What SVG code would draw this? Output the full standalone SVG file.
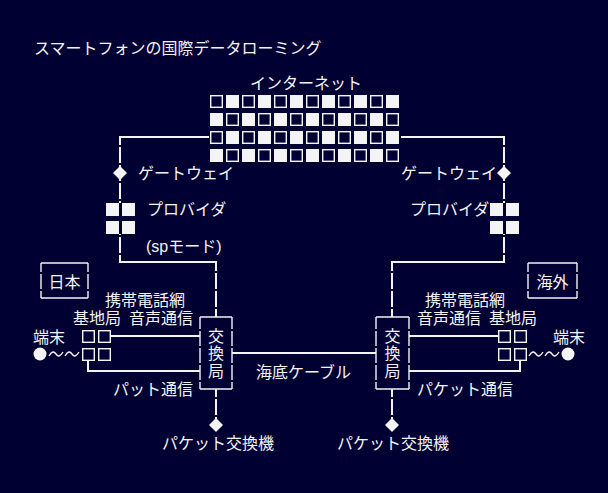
<svg xmlns="http://www.w3.org/2000/svg" width="608" height="493" viewBox="0 0 608 493">
<style>
text{font-family:"Liberation Sans","Noto Sans CJK JP",sans-serif;font-size:16px;fill:#f4f4f4}
.c{text-anchor:middle}
text.v{font-family:"Noto Sans CJK JP",sans-serif;writing-mode:vertical-rl;letter-spacing:1.5px}
.ln{fill:none;stroke:#f4f4f4;stroke-width:2}
.th{fill:none;stroke:#f4f4f4;stroke-width:1.4}
.f{fill:#f4f4f4}
.h{fill:none;stroke:#f4f4f4;stroke-width:1.4}
.d{fill:#f4f4f4}
</style>
<defs>
<pattern id="stripe" patternUnits="userSpaceOnUse" x="0" y="0" width="608" height="18">
<rect x="0" y="0" width="608" height="18" fill="#fff"/>
<rect x="0" y="1" width="608" height="2" fill="#000"/>
</pattern>
<mask id="gaps" maskUnits="userSpaceOnUse" x="0" y="0" width="608" height="493">
<rect x="0" y="0" width="608" height="493" fill="url(#stripe)"/>
</mask>
<rect id="sf" width="13" height="13" class="f"/>
<rect id="sh" x="0.7" y="0.7" width="11.6" height="11.6" class="h"/>
</defs>
<rect x="0" y="0" width="608" height="493" fill="#000033"/>

<text x="34" y="54">スマートフォンの国際データローミング</text>

<g id="connectors">
<g mask="url(#gaps)">
<path class="ln" d="M209,137 H120 V203"/>
<path class="ln" d="M120,234 V262 H216 V317"/>
<path class="ln" d="M401,137 H504 V203"/>
<path class="ln" d="M504,234 V262 H392 V317"/>
<path class="ln" d="M216,389 V420"/>
<path class="ln" d="M392,389 V420"/>
</g>
<path class="ln" d="M232,353 H376"/>
<path class="ln" d="M111,336 H200"/>
<path class="ln" d="M88,361 V371 H200"/>
<path class="ln" d="M409,336 H498"/>
<path class="ln" d="M520,361 V371 H409"/>
<path class="th" d="M49,356 C52,351 54,351 56,354 S60,357 63,352 M65,356 C68,351 70,351 72,354 S76,357 79,352"/>
<path class="th" d="M529,356 C532,351 534,351 536,354 S540,357 543,352 M545,356 C548,351 550,351 552,354 S556,357 559,352"/>
</g>

<g id="internet">
<text x="250" y="89">インターネット</text>
<g id="grid">
<use href="#sh" x="210" y="95"/><use href="#sf" x="226" y="95"/><use href="#sh" x="242" y="95"/><use href="#sf" x="258" y="95"/><use href="#sh" x="274" y="95"/><use href="#sf" x="290" y="95"/><use href="#sh" x="306" y="95"/><use href="#sf" x="322" y="95"/><use href="#sh" x="338" y="95"/><use href="#sf" x="354" y="95"/><use href="#sh" x="370" y="95"/><use href="#sf" x="386" y="95"/>
<use href="#sf" x="210" y="113"/><use href="#sh" x="226" y="113"/><use href="#sf" x="242" y="113"/><use href="#sh" x="258" y="113"/><use href="#sf" x="274" y="113"/><use href="#sh" x="290" y="113"/><use href="#sf" x="306" y="113"/><use href="#sh" x="322" y="113"/><use href="#sf" x="338" y="113"/><use href="#sh" x="354" y="113"/><use href="#sf" x="370" y="113"/><use href="#sh" x="386" y="113"/>
<use href="#sh" x="210" y="131"/><use href="#sf" x="226" y="131"/><use href="#sh" x="242" y="131"/><use href="#sf" x="258" y="131"/><use href="#sh" x="274" y="131"/><use href="#sf" x="290" y="131"/><use href="#sh" x="306" y="131"/><use href="#sf" x="322" y="131"/><use href="#sh" x="338" y="131"/><use href="#sf" x="354" y="131"/><use href="#sh" x="370" y="131"/><use href="#sf" x="386" y="131"/>
<use href="#sf" x="210" y="149"/><use href="#sh" x="226" y="149"/><use href="#sf" x="242" y="149"/><use href="#sh" x="258" y="149"/><use href="#sf" x="274" y="149"/><use href="#sh" x="290" y="149"/><use href="#sf" x="306" y="149"/><use href="#sh" x="322" y="149"/><use href="#sf" x="338" y="149"/><use href="#sh" x="354" y="149"/><use href="#sf" x="370" y="149"/><use href="#sh" x="386" y="149"/>
</g>
</g>

<g id="gateway-left">
<polygon class="d" points="120,166 127,173 120,180 113,173"/>
<text x="138" y="179">ゲートウェイ</text>
</g>
<g id="gateway-right">
<polygon class="d" points="504,166 511,173 504,180 497,173"/>
<text x="401" y="179">ゲートウェイ</text>
</g>

<g id="provider-left">
<use href="#sf" x="106" y="203"/><use href="#sf" x="122" y="203"/>
<use href="#sf" x="106" y="221"/><use href="#sf" x="122" y="221"/>
<text x="147" y="215">プロバイダ</text>
<text x="146" y="252">(spモード)</text>
</g>
<g id="provider-right">
<use href="#sf" x="490" y="203"/><use href="#sf" x="506" y="203"/>
<use href="#sf" x="490" y="221"/><use href="#sf" x="506" y="221"/>
<text x="410" y="215">プロバイダ</text>
</g>

<g id="japan">
<path class="th" d="M41,263 H88 M41,298 H88 M41,263 V272 M41,274 V289 M41,291 V298 M88,263 V272 M88,274 V289 M88,291 V298"/>
<text class="c" x="64.5" y="288">日本</text>
</g>
<g id="overseas">
<path class="th" d="M528,263 H577 M528,298 H577 M528,263 V272 M528,274 V289 M528,291 V298 M577,263 V272 M577,274 V289 M577,291 V298"/>
<text class="c" x="552.5" y="288">海外</text>
</g>

<g id="mobile-left">
<text x="105" y="306">携帯電話網</text>
<text x="73" y="324">基地局</text>
<text x="129" y="324">音声通信</text>
<use href="#sh" x="82" y="330"/><use href="#sh" x="98" y="330"/>
<use href="#sh" x="82" y="348"/><use href="#sh" x="98" y="348"/>
<text x="113" y="395">パット通信</text>
</g>
<g id="terminal-left">
<text x="33" y="343">端末</text>
<circle class="d" cx="40" cy="354" r="6.5"/>
</g>

<g id="mobile-right">
<text x="425" y="306">携帯電話網</text>
<text x="417" y="324">音声通信</text>
<text x="489" y="324">基地局</text>
<use href="#sh" x="498" y="330"/><use href="#sh" x="514" y="330"/>
<use href="#sh" x="498" y="348"/><use href="#sh" x="514" y="348"/>
<text x="417" y="395">パケット通信</text>
</g>
<g id="terminal-right">
<text x="553" y="343">端末</text>
<circle class="d" cx="568" cy="354" r="6.5"/>
</g>

<g id="exchange-left">
<path class="th" d="M200,317 H232 M200,389 H232 M200,317 V329 M200,331 V346 M200,348 V363 M200,365 V380 M200,382 V389 M232,317 V329 M232,331 V346 M232,348 V363 M232,365 V380 M232,382 V389"/>
<text class="v" x="216" y="327.5">交換局</text>
</g>
<g id="exchange-right">
<path class="th" d="M376,317 H409 M376,389 H409 M376,317 V329 M376,331 V346 M376,348 V363 M376,365 V380 M376,382 V389 M409,317 V329 M409,331 V346 M409,348 V363 M409,365 V380 M409,382 V389"/>
<text class="v" x="392.5" y="327.5">交換局</text>
</g>

<g id="cable">
<text x="256" y="378">海底ケーブル</text>
</g>

<g id="packet-left">
<polygon class="d" points="216,418 223,425 216,432 209,425"/>
<text x="162" y="449">パケット交換機</text>
</g>
<g id="packet-right">
<polygon class="d" points="392,418 399,425 392,432 385,425"/>
<text x="337" y="449">パケット交換機</text>
</g>
</svg>
